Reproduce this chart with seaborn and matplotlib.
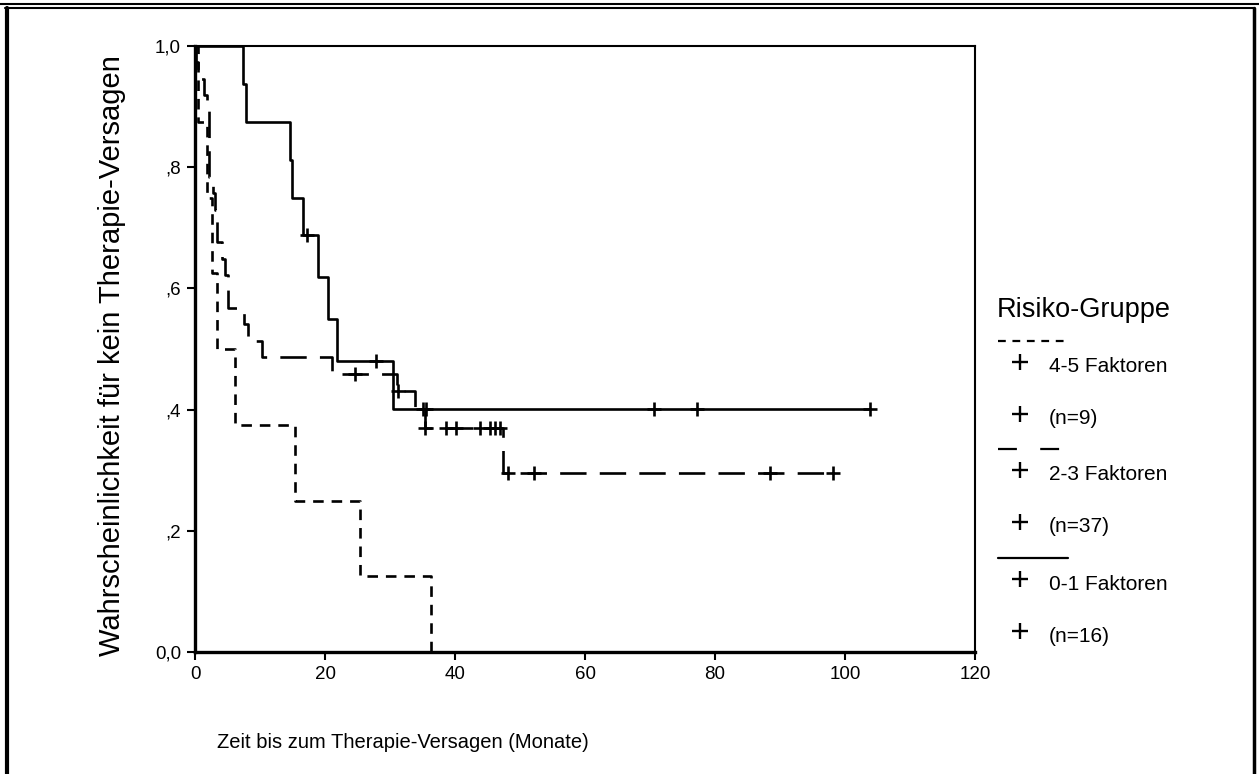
"""Kaplan-Meier curves: time to therapy failure by risk group"""

import numpy as np
import pandas as pd
import seaborn as sns
import matplotlib.pyplot as plt
from matplotlib.lines import Line2D

# group 4-5 Faktoren (n=9)
t_45 = [0, 0.5, 1.8, 2.6, 3.4, 6.15, 15.4, 25.4, 36.3]
s_45 = [1.0, 0.875, 0.75, 0.625, 0.5, 0.375, 0.25, 0.125, 0.0]
c_45 = []

# group 2-3 Faktoren (n=37)
t_23 = [0, 0.2, 0.4, 1.4, 1.8, 2.2, 2.7, 3.1, 3.4, 4.2, 4.6, 5.0, 7.5, 8.1,
        10.3, 21.0, 31.1, 33.8, 35.4, 47.4, 98.2]
s_23 = [1.0, 0.973, 0.946, 0.919, 0.892, 0.784, 0.757, 0.730, 0.676, 0.649,
        0.622, 0.568, 0.541, 0.514, 0.486, 0.459, 0.430, 0.3995, 0.369, 0.295,
        0.295]
c_23 = [24.6, 31.3, 35.4, 38.6, 40.2, 43.8, 45.4, 46.2, 46.9, 48.2, 52.2,
        88.5, 98.2]

# group 0-1 Faktoren (n=16)
t_01 = [0, 7.4, 7.8, 14.6, 14.9, 16.6, 18.9, 20.5, 21.8, 30.5, 103.8]
s_01 = [1.0, 0.9375, 0.875, 0.8125, 0.75, 0.6875, 0.619, 0.55, 0.481, 0.401,
        0.401]
c_01 = [17.3, 27.8, 35.1, 35.6, 70.6, 77.2, 103.8]

groups = ['4-5 Faktoren', '2-3 Faktoren', '0-1 Faktoren']
n_labels = ['(n=9)', '(n=37)', '(n=16)']
xticks = [0, 20, 40, 60, 80, 100, 120]
yticks = [0.0, 0.2, 0.4, 0.6, 0.8, 1.0]
ytick_labels = ['0,0', ',2', ',4', ',6', ',8', '1,0']

sns.set_style('white')
plt.rcParams['font.family'] = ['Liberation Sans', 'DejaVu Sans']
plt.rcParams['text.color'] = 'black'

dash_styles = {'4-5 Faktoren': (0, (4, 3)),
               '2-3 Faktoren': (0, (10, 5)),
               '0-1 Faktoren': '-'}
legend_dashes = {'4-5 Faktoren': (0, (3.5, 3)),
                 '2-3 Faktoren': (0, (8.5, 10.5)),
                 '0-1 Faktoren': '-'}


def level_at(times, levels, t):
    """Survival level of a step curve at time t"""
    idx = np.searchsorted(times, t, side='right') - 1
    return levels[idx]


fig = plt.figure(figsize=(12.59, 7.74), dpi=100)
ax = fig.add_axes([195 / 1259, 1 - 652 / 774, 780 / 1259, 606 / 774])

curves = [(t_45, s_45, c_45), (t_23, s_23, c_23), (t_01, s_01, c_01)]
for name, (tt, ss, cc) in zip(groups, curves):
    df = pd.DataFrame({'t': tt, 's': ss})
    sns.lineplot(data=df, x='t', y='s', ax=ax, color='black', lw=1.9,
                 drawstyle='steps-post', estimator=None, sort=False,
                 linestyle=dash_styles[name])
    if cc:
        cdf = pd.DataFrame({'t': cc, 's': [level_at(tt, ss, c) for c in cc]})
        sns.scatterplot(data=cdf, x='t', y='s', ax=ax, marker='+', s=110,
                        color='black', linewidth=1.9, zorder=3)

ax.set_xlim(0, 120)
ax.set_ylim(0, 1)
ax.set_xticks(xticks)
ax.set_xticklabels([str(x) for x in xticks])
ax.set_yticks(yticks)
ax.set_yticklabels(ytick_labels)
ax.tick_params(direction='out', length=6, width=1.5, colors='black',
               labelsize=13.5, pad=4, left=True, bottom=True)
ax.set_xlabel('')
ax.set_ylabel('')
for side in ['left', 'bottom']:
    ax.spines[side].set_linewidth(2.4)
for side in ['top', 'right']:
    ax.spines[side].set_linewidth(1.5)
for sp in ax.spines.values():
    sp.set_color('black')

fig.text(217 / 1259, 1 - 742 / 774, 'Zeit bis zum Therapie-Versagen (Monate)',
         fontsize=14.5, ha='left', va='center')
fig.text(112 / 1259, 1 - 356 / 774, 'Wahrscheinlichkeit für kein Therapie-Versagen',
         fontsize=21, rotation=90, ha='center', va='center')

# legend drawn by hand, SPSS style
fig.text(997 / 1259, 1 - 310 / 774, 'Risiko-Gruppe', fontsize=19.5,
         ha='left', va='center')
line_y = [341, 449, 558]
for name, nlab, ly in zip(groups, n_labels, line_y):
    fig.add_artist(Line2D([998 / 1259, 1068 / 1259], [1 - ly / 774] * 2,
                          transform=fig.transFigure, color='black', lw=1.6,
                          linestyle=legend_dashes[name]))
    for dy, lab in [(26, name), (78, nlab)]:
        fig.add_artist(Line2D([1020 / 1259], [1 - (ly + dy - 5) / 774],
                              transform=fig.transFigure, marker='+',
                              markersize=12, markeredgewidth=1.7,
                              color='black', linestyle='none'))
        fig.text(1049 / 1259, 1 - (ly + dy) / 774, lab, fontsize=15,
                 ha='left', va='center')

# page frame around the figure
frame = [([0, 1], [1 - 4 / 774] * 2, 1.5),
         ([5 / 1259, 1254 / 1259], [1 - 7.5 / 774] * 2, 1.5),
         ([6.5 / 1259] * 2, [0, 1 - 7.5 / 774], 3),
         ([1253.5 / 1259] * 2, [0, 1 - 7.5 / 774], 2.5)]
for xs, ys, lw in frame:
    fig.add_artist(Line2D(xs, ys, transform=fig.transFigure, color='black',
                          lw=lw))

plt.savefig('out.png', dpi=100)
